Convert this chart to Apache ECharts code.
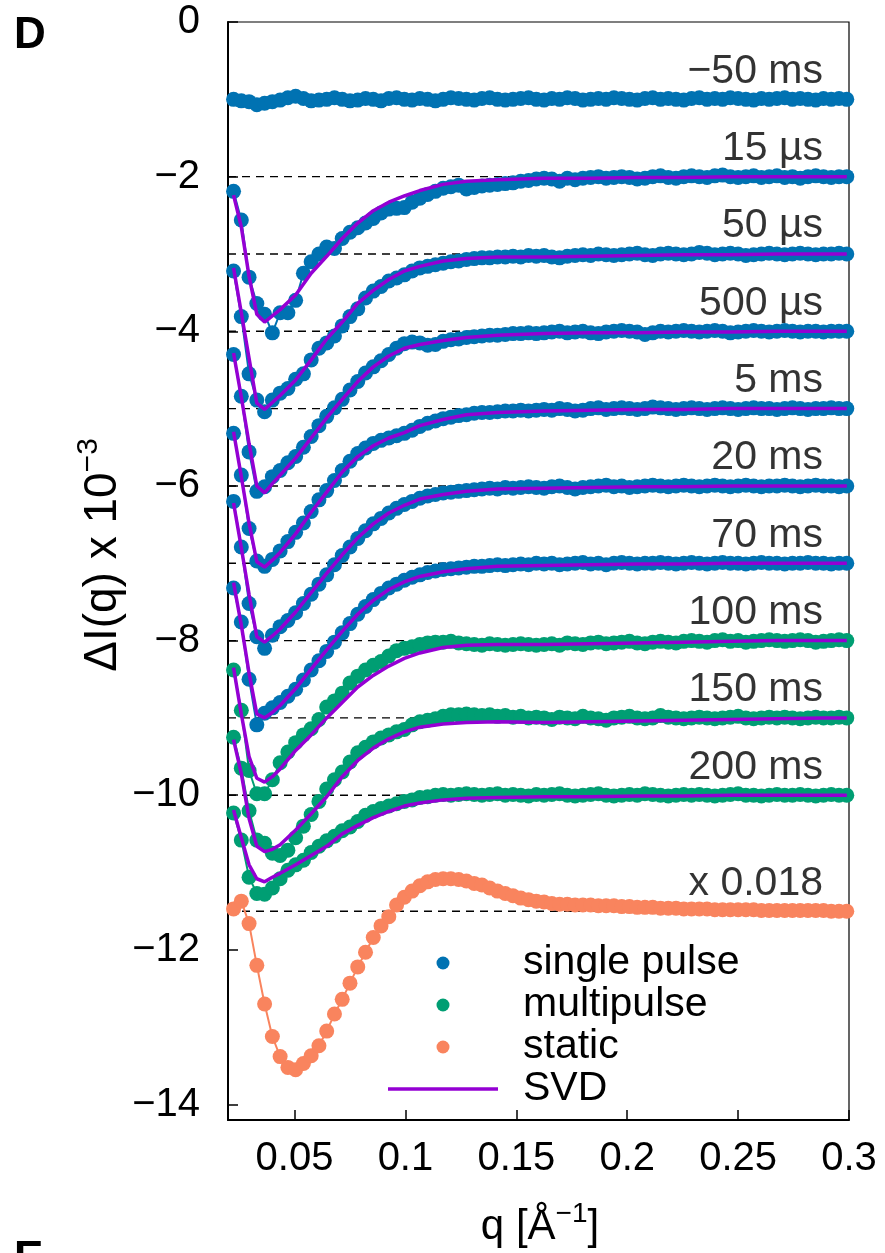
<!DOCTYPE html>
<html><head><meta charset="utf-8">
<script src="https://cdn.jsdelivr.net/npm/echarts@6/dist/echarts.min.js"></script>
<style>html,body{margin:0;padding:0;background:#fff}#c{width:885px;height:1253px}</style>
</head><body><div id="c"></div>
<script>
// q grid of the measured curves [1/Å]
const q = [0.0225,0.026,0.0295,0.033,0.0365,0.04,0.0435,0.047,0.0505,0.054,
0.0575,0.061,0.0645,0.068,0.0715,0.075,0.0785,0.082,0.0855,0.089,
0.0925,0.096,0.0995,0.103,0.1065,0.11,0.1135,0.117,0.1205,0.124,
0.1275,0.131,0.1345,0.138,0.1415,0.145,0.1485,0.152,0.1555,0.159,
0.1625,0.166,0.1695,0.173,0.1765,0.18,0.1835,0.187,0.1905,0.194,
0.1975,0.201,0.2045,0.208,0.2115,0.215,0.2185,0.222,0.2255,0.229,
0.2325,0.236,0.2395,0.243,0.2465,0.25,0.2535,0.257,0.2605,0.264,
0.2675,0.271,0.2745,0.278,0.2815,0.285,0.2885,0.292,0.2955,0.299];
// q grid of the SVD reconstruction
const qSvd = [0.0225,0.026,0.0295,0.033,0.0365,0.04,0.0435,0.0505,0.0575,0.0645,0.0715,0.0785,0.0855,0.0925,0.0995,0.1065,0.117,0.1275,0.1415,0.1625,0.1835,0.2045,0.2255,0.2465,0.2675,0.2885,0.299];

// curve labels, vertical offsets, and kind
const labels = ['\u221250 ms','15 \u00b5s','50 \u00b5s','500 \u00b5s','5 ms','20 ms','70 ms','100 ms','150 ms','200 ms','x 0.018'];
const offsets = [-1,-2,-3,-4,-5,-6,-7,-8,-9,-10,-11.5];
const kinds = ['single pulse','single pulse','single pulse','single pulse','single pulse','single pulse','single pulse','multipulse','multipulse','multipulse','static'];
const dashedOffsets = [-2,-3,-4,-5,-6,-7,-8,-9,-10,-11.5];

// ΔI(q) relative to each offset
const dNeg50ms = [0.00,-0.02,-0.03,-0.07,-0.05,-0.03,-0.01,0.02,0.04,0.01,
-0.02,-0.01,0.00,0.02,0.00,-0.02,-0.01,0.01,0.00,-0.02,
0.01,0.02,0.00,-0.01,0.01,0.00,-0.02,0.00,0.02,0.01,
0.00,-0.01,0.01,0.02,0.00,-0.01,0.00,0.01,0.02,0.00,
-0.01,0.01,0.00,0.02,0.01,-0.01,0.00,0.01,0.00,0.02,
0.01,0.00,-0.01,0.01,0.02,0.00,0.01,0.00,-0.01,0.01,
0.02,0.00,0.01,0.00,0.02,0.01,0.00,-0.01,0.01,0.00,
0.01,0.02,0.00,0.01,0.00,-0.01,0.01,0.00,0.01,0.00];
const d15us = [-0.19,-0.56,-1.30,-1.64,-1.78,-2.02,-1.76,-1.76,-1.60,-1.25,
-1.10,-1.00,-0.91,-0.93,-0.80,-0.72,-0.66,-0.60,-0.54,-0.47,
-0.42,-0.41,-0.40,-0.33,-0.28,-0.23,-0.19,-0.15,-0.13,-0.11,
-0.16,-0.14,-0.12,-0.11,-0.10,-0.09,-0.08,-0.06,-0.05,-0.03,
-0.02,-0.03,-0.06,-0.02,-0.04,-0.02,-0.01,0.00,-0.02,-0.01,
0.00,-0.01,-0.03,-0.02,0.00,0.01,-0.01,-0.02,0.00,0.01,
0.00,-0.01,0.01,0.02,0.00,-0.01,0.00,0.01,-0.01,0.00,
0.01,-0.01,0.00,-0.02,0.00,0.01,0.00,-0.01,0.00,0.00];
const d50us = [-0.22,-0.81,-1.55,-1.89,-2.04,-1.89,-1.80,-1.74,-1.62,-1.55,
-1.37,-1.22,-1.15,-1.06,-0.93,-0.81,-0.71,-0.57,-0.48,-0.42,
-0.35,-0.31,-0.27,-0.22,-0.18,-0.16,-0.14,-0.12,-0.10,-0.09,
-0.07,-0.06,-0.05,-0.05,-0.04,-0.04,-0.03,-0.04,-0.02,-0.03,
-0.02,-0.04,-0.05,-0.03,-0.02,-0.01,-0.02,0.00,-0.01,-0.02,
-0.01,0.00,0.01,-0.01,-0.02,0.00,0.01,0.00,-0.01,0.00,
0.02,0.01,-0.01,0.00,0.01,0.00,-0.02,-0.01,0.00,0.01,
0.00,-0.01,0.00,0.01,0.00,-0.01,0.00,0.00,0.01,0.00];
const d500us = [-0.30,-0.84,-1.56,-2.07,-2.01,-1.88,-1.80,-1.70,-1.62,-1.50,
-1.36,-1.22,-1.10,-0.99,-0.88,-0.76,-0.65,-0.54,-0.46,-0.38,
-0.30,-0.22,-0.16,-0.14,-0.15,-0.18,-0.17,-0.13,-0.11,-0.10,
-0.08,-0.07,-0.06,-0.05,-0.05,-0.04,-0.03,-0.03,-0.02,-0.03,
-0.02,-0.01,0.00,-0.02,-0.01,0.00,-0.02,-0.03,-0.01,0.00,
0.01,0.00,-0.01,-0.04,-0.02,0.00,-0.01,0.00,0.01,0.00,
-0.01,0.00,0.01,0.00,-0.02,-0.01,0.00,0.01,0.00,-0.01,
0.00,0.01,0.00,-0.01,0.00,0.00,-0.01,0.00,0.00,0.00];
const d5ms = [-0.32,-0.86,-1.55,-1.97,-2.04,-1.95,-1.84,-1.72,-1.60,-1.48,
-1.33,-1.18,-1.06,-0.93,-0.80,-0.68,-0.58,-0.51,-0.45,-0.41,
-0.38,-0.35,-0.32,-0.28,-0.23,-0.19,-0.16,-0.13,-0.11,-0.09,
-0.08,-0.06,-0.05,-0.05,-0.04,-0.03,-0.03,-0.02,-0.03,-0.02,
-0.01,-0.02,0.00,-0.01,-0.03,-0.02,0.00,0.01,-0.01,0.00,
0.01,0.00,-0.01,0.00,0.02,0.01,0.00,-0.01,0.00,0.01,
0.00,-0.01,0.00,0.01,0.00,-0.01,0.00,0.01,0.00,0.00,
-0.01,0.00,0.01,0.00,-0.01,0.00,0.00,0.01,0.00,0.00];
const d20ms = [-0.20,-0.79,-1.52,-1.95,-2.10,-1.93,-1.82,-1.74,-1.64,-1.52,
-1.40,-1.27,-1.15,-1.02,-0.90,-0.79,-0.68,-0.58,-0.49,-0.42,
-0.35,-0.29,-0.24,-0.20,-0.16,-0.13,-0.11,-0.09,-0.08,-0.07,
-0.06,-0.05,-0.04,-0.03,-0.04,-0.02,-0.03,-0.02,-0.01,-0.02,
-0.03,-0.01,0.00,-0.02,-0.04,-0.02,-0.01,0.00,0.01,-0.01,
0.00,-0.02,-0.01,0.00,0.01,0.00,-0.01,0.00,0.01,0.00,
-0.01,0.00,0.01,0.00,-0.01,0.00,0.01,0.00,-0.01,0.00,
0.00,0.01,0.00,-0.01,0.00,0.01,0.00,0.00,-0.01,0.00];
const d70ms = [-0.32,-0.76,-1.50,-2.09,-1.94,-1.87,-1.80,-1.72,-1.63,-1.51,
-1.38,-1.26,-1.14,-1.02,-0.90,-0.78,-0.66,-0.56,-0.47,-0.39,
-0.32,-0.27,-0.22,-0.18,-0.15,-0.12,-0.10,-0.08,-0.07,-0.06,
-0.05,-0.04,-0.04,-0.03,-0.02,-0.03,-0.02,-0.01,-0.02,0.00,
-0.01,0.00,-0.02,-0.01,0.00,0.01,-0.01,0.00,-0.02,0.00,
0.01,0.00,-0.01,0.00,0.00,0.01,0.00,-0.01,0.00,0.01,
0.00,-0.01,0.00,0.01,0.00,0.00,-0.01,0.00,0.01,0.00,
0.00,-0.01,0.00,0.00,0.01,0.00,0.00,-0.01,0.00,0.00];
const d100ms = [-0.38,-0.90,-1.68,-1.98,-1.98,-1.80,-1.58,-1.44,-1.32,-1.22,
-1.14,-1.02,-0.86,-0.78,-0.68,-0.55,-0.46,-0.38,-0.32,-0.27,
-0.20,-0.13,-0.10,-0.08,-0.05,-0.03,-0.02,-0.02,-0.01,-0.03,
-0.04,-0.05,-0.06,-0.04,-0.05,-0.06,-0.05,-0.04,-0.05,-0.06,
-0.05,-0.04,-0.06,-0.03,-0.04,-0.05,-0.03,-0.02,-0.04,-0.03,
-0.02,-0.01,-0.03,-0.04,-0.02,-0.01,-0.02,-0.03,-0.01,0.00,
-0.01,-0.02,0.00,0.01,-0.01,0.00,-0.02,-0.01,0.00,0.01,
0.00,-0.01,0.00,0.01,0.00,-0.02,-0.01,0.00,0.01,0.00];
const d150ms = [-0.25,-0.65,-1.20,-1.58,-1.62,-1.75,-1.78,-1.71,-1.55,-1.40,
-1.25,-1.08,-0.92,-0.80,-0.70,-0.57,-0.45,-0.38,-0.31,-0.26,
-0.22,-0.18,-0.15,-0.09,-0.05,-0.03,-0.01,0.02,0.04,0.04,
0.05,0.04,0.03,0.04,0.02,0.03,0.01,0.02,0.00,0.01,
0.00,-0.02,0.01,0.00,-0.01,0.02,0.00,-0.01,-0.03,0.00,
0.01,0.02,0.00,-0.01,0.00,0.03,0.01,0.00,-0.01,0.00,
0.01,0.00,-0.01,0.00,0.01,0.02,0.00,-0.01,0.00,0.01,
0.00,0.01,0.00,-0.01,0.00,0.01,0.00,0.00,0.01,0.00];
const d200ms = [-0.23,-0.58,-1.06,-1.27,-1.28,-1.20,-1.08,-0.97,-0.90,-0.84,
-0.74,-0.66,-0.59,-0.53,-0.46,-0.41,-0.34,-0.26,-0.21,-0.17,
-0.14,-0.11,-0.08,-0.06,-0.03,-0.02,0.00,0.01,0.00,0.01,
0.02,0.01,0.00,0.01,0.02,0.00,0.01,0.00,-0.01,0.01,
0.00,0.01,0.02,0.00,-0.01,0.00,0.01,0.02,0.00,-0.01,
0.00,0.01,0.00,0.02,0.01,0.00,-0.01,0.00,0.01,0.00,
0.01,0.00,-0.01,0.00,0.01,0.02,0.00,0.00,-0.01,0.00,
0.01,0.00,0.00,0.01,0.00,-0.01,0.00,0.01,0.00,0.00];
const dStatic = [0.03,0.13,-0.16,-0.70,-1.20,-1.62,-1.88,-2.02,-2.05,-1.97,
-1.87,-1.74,-1.55,-1.33,-1.14,-0.93,-0.72,-0.53,-0.34,-0.19,
-0.07,0.08,0.18,0.26,0.33,0.38,0.41,0.42,0.42,0.41,
0.39,0.36,0.34,0.30,0.26,0.23,0.20,0.17,0.15,0.13,
0.12,0.10,0.09,0.09,0.08,0.08,0.08,0.07,0.07,0.07,
0.06,0.06,0.05,0.05,0.05,0.04,0.04,0.04,0.03,0.03,
0.03,0.03,0.02,0.02,0.02,0.02,0.02,0.02,0.01,0.01,
0.01,0.01,0.01,0.01,0.01,0.01,0.01,0.00,0.00,0.00];
const dataSets = [dNeg50ms,d15us,d50us,d500us,d5ms,d20ms,d70ms,d100ms,d150ms,d200ms,dStatic];

// SVD reconstruction (relative to offsets -2 ... -10), on qSvd
const s15us  = [-0.24,-0.65,-1.29,-1.78,-1.88,-1.80,-1.72,-1.53,-1.25,-1.03,-0.80,-0.60,-0.44,-0.33,-0.25,-0.18,-0.10,-0.06,-0.04,-0.02,-0.02,-0.01,-0.01,0.00,0.00,0.00,0.00];
const s50us  = [-0.18,-0.76,-1.35,-1.93,-2.01,-1.92,-1.83,-1.63,-1.37,-1.10,-0.88,-0.64,-0.47,-0.33,-0.22,-0.16,-0.09,-0.06,-0.04,-0.04,-0.03,-0.02,-0.01,-0.01,0.00,0.00,0.00];
const s500us = [-0.28,-0.85,-1.45,-2.00,-2.09,-1.97,-1.86,-1.64,-1.38,-1.12,-0.88,-0.65,-0.46,-0.32,-0.22,-0.17,-0.12,-0.08,-0.05,-0.03,-0.02,-0.02,-0.01,-0.01,0.00,0.00,0.00];
const s5ms   = [-0.30,-0.88,-1.48,-1.98,-2.05,-1.96,-1.86,-1.62,-1.34,-1.08,-0.82,-0.62,-0.48,-0.38,-0.31,-0.22,-0.14,-0.08,-0.05,-0.03,-0.02,-0.01,-0.01,0.00,0.00,0.00,0.00];
const s20ms  = [-0.22,-0.80,-1.40,-1.95,-2.02,-1.94,-1.85,-1.63,-1.38,-1.13,-0.89,-0.67,-0.49,-0.35,-0.25,-0.17,-0.11,-0.07,-0.04,-0.03,-0.02,-0.01,-0.01,0.00,0.00,0.00,0.00];
const s70ms  = [-0.25,-0.80,-1.42,-1.95,-2.00,-1.93,-1.84,-1.62,-1.37,-1.12,-0.88,-0.66,-0.48,-0.34,-0.24,-0.17,-0.11,-0.07,-0.04,-0.03,-0.02,-0.01,-0.01,0.00,0.00,0.00,0.00];
const s100ms = [-0.35,-0.95,-1.50,-1.78,-1.83,-1.76,-1.66,-1.42,-1.22,-1.00,-0.80,-0.60,-0.45,-0.33,-0.23,-0.16,-0.09,-0.06,-0.05,-0.05,-0.04,-0.03,-0.02,-0.01,0.00,0.00,0.00];
const s150ms = [-0.28,-0.72,-1.30,-1.66,-1.73,-1.70,-1.64,-1.45,-1.24,-1.02,-0.76,-0.55,-0.39,-0.27,-0.18,-0.12,-0.08,-0.06,-0.05,-0.06,-0.05,-0.04,-0.03,-0.02,-0.01,0.00,0.00];
const s200ms = [-0.19,-0.55,-0.90,-1.08,-1.12,-1.06,-1.01,-0.90,-0.78,-0.66,-0.50,-0.39,-0.29,-0.21,-0.14,-0.10,-0.06,-0.04,-0.03,-0.02,-0.02,-0.01,-0.01,0.00,0.00,0.00,0.00];
const svdSets = [null,s15us,s50us,s500us,s5ms,s20ms,s70ms,s100ms,s150ms,s200ms,null];

const xTicks = [0.05,0.1,0.15,0.2,0.25,0.3];
const yTicks = [0,-2,-4,-6,-8,-10,-12,-14];
const labelQ = 0.2883;

const colors = {'single pulse':'#0072b2','multipulse':'#009e73','static':'#f9845e','SVD':'#9400d3'};
const FONT = "'Liberation Sans', Arial, Helvetica, sans-serif";

const chart = echarts.init(document.getElementById('c'), null, {renderer:'canvas'});
const series = [];
dashedOffsets.forEach(o => series.push({
  type:'line', name:'_dash', silent:true, symbol:'none', z:1,
  data:[[0.02,o],[0.3,o]],
  lineStyle:{color:'#000', width:1.4, type:[8,6]}
}));
dataSets.forEach((d,k) => {
  const c = colors[kinds[k]];
  series.push({
    type:'line', name:kinds[k], z:2, symbol:'circle', symbolSize:15, showSymbol:true,
    data:q.map((x,i)=>[x, offsets[k]+d[i]]),
    itemStyle:{color:c}, lineStyle:{color:c, width:2}
  });
});
svdSets.forEach((s,k) => {
  if (!s) return;
  series.push({
    type:'line', name:'SVD', z:3, symbol:'none',
    data:qSvd.map((x,i)=>[x, offsets[k]+s[i]]),
    lineStyle:{color:colors.SVD, width:3.5}, itemStyle:{color:colors.SVD}
  });
});
series.push({
  type:'scatter', name:'_labels', z:4, silent:true, symbolSize:0.1,
  itemStyle:{color:'rgba(0,0,0,0)'},
  data:labels.map((t,k)=>({name:t, value:[labelQ, offsets[k]+0.36]})),
  label:{show:true, position:'left', distance:0, formatter:'{b}', color:'#000', fontSize:41, fontFamily:FONT}
});

chart.setOption({
  animation:false,
  backgroundColor:'#fff',
  grid:{left:228, right:36, top:22, bottom:133, show:true, borderColor:'#000', borderWidth:1.2, backgroundColor:'transparent'},
  xAxis:{type:'value', min:0.02, max:0.3,
    axisLine:{show:true, onZero:false, lineStyle:{color:'#000', width:2}},
    axisTick:{show:true, inside:true, length:10, customValues:xTicks, lineStyle:{color:'#000', width:1.5}},
    axisLabel:{customValues:xTicks, color:'#000', fontSize:40, fontFamily:FONT, margin:19, formatter:v=>String(+v.toFixed(3))},
    splitLine:{show:false}},
  yAxis:{type:'value', min:-14.2, max:0,
    axisLine:{show:true, onZero:false, lineStyle:{color:'#000', width:2}},
    axisTick:{show:true, inside:true, length:10, customValues:yTicks, lineStyle:{color:'#000', width:1.5}},
    axisLabel:{customValues:yTicks, color:'#000', fontSize:40, fontFamily:FONT, margin:28, formatter:v=>String(Math.round(v)).replace('-','\u2212')},
    splitLine:{show:false}},
  legend:{orient:'vertical', left:388, top:942, padding:0, itemWidth:110, itemHeight:13, itemGap:0,
    textStyle:{fontSize:41, fontFamily:FONT, color:'#000', lineHeight:42, padding:[0,0,0,20]},
    data:[{name:'single pulse', icon:'circle'},{name:'multipulse', icon:'circle'},{name:'static', icon:'circle'},
          {name:'SVD', icon:'path://M0 0 H110 V3.5 H0 Z'}]},
  graphic:[
    {type:'text', left:14, top:14, style:{text:'D', font:"bold 44px "+FONT, fill:'#000'}},
    {type:'text', left:14, top:1238, style:{text:'E', font:"bold 44px "+FONT, fill:'#000'}},
    {type:'text', x:100, y:555, rotation:Math.PI/2,
      style:{text:'{a|\u0394I(q) x 10}{s|\u22123}', align:'center', verticalAlign:'middle',
        rich:{a:{fontSize:46, fontFamily:FONT, fill:'#000', lineHeight:52, verticalAlign:'bottom'},
              s:{fontSize:30, fontFamily:FONT, fill:'#000', lineHeight:52, verticalAlign:'top'}}}},
    {type:'text', x:540, y:1224,
      style:{text:'{a|q [\u00c5}{s|\u22121}{a|]}', align:'center', verticalAlign:'middle',
        rich:{a:{fontSize:42, fontFamily:FONT, fill:'#000', lineHeight:48, verticalAlign:'bottom'},
              s:{fontSize:28, fontFamily:FONT, fill:'#000', lineHeight:48, verticalAlign:'top'}}}}
  ],
  series:series
});
</script></body></html>
